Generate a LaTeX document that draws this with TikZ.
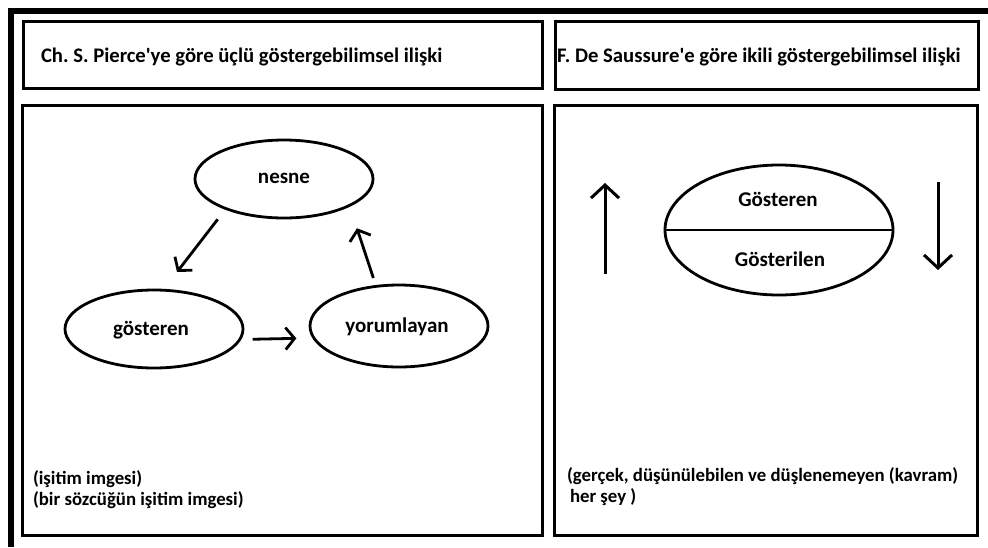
\documentclass[tikz,border=0pt]{standalone}
\usepackage{fontspec}
\setmainfont{Carlito}[Ligatures=TeXOff]
\usetikzlibrary{shapes.geometric,arrows.meta}
\frenchspacing
\begin{document}
\begin{tikzpicture}[x=1pt,y=-1pt,
  box/.style={draw,line width=3pt,inner sep=0pt,outer sep=0pt},
  oval/.style={draw,ellipse,line width=2.8pt,inner sep=0pt,outer sep=0pt},
  lbl/.style={font=\fontsize{21}{23}\selectfont\bfseries,inner sep=0pt,outer sep=0pt},
  ttl/.style={font=\fontsize{20.7}{23}\selectfont\bfseries\frenchspacing,inner sep=0pt,outer sep=0pt},
  note/.style={font=\fontsize{18.8}{21}\selectfont\bfseries,inner sep=0pt,outer sep=0pt},
  arr/.style={line width=2.8pt,-{Straight Barb[length=9pt,width=22pt]}},
  bigarr/.style={line width=3pt,-{Straight Barb[length=13pt,width=28pt]}}]
\useasboundingbox (0,0) rectangle (988,547);
\fill[white] (0,0) rectangle (988,547);
% outer frame
\coordinate (fbl) at (11,547);
\coordinate (ftl) at (11,11);
\coordinate (ftr) at (988,11);
\draw[line width=6pt] (fbl) -- (ftl) -- (ftr);
% boxes
\node[box,minimum width=518.5pt,minimum height=67.2pt] (h1) at (282.75,55.1) {};
\node[box,minimum width=423.7pt,minimum height=67.3pt] (h2) at (766.85,55.35) {};
\node[box,minimum width=520.2pt,minimum height=430.5pt] (b1) at (282.4,320.25) {};
\node[box,minimum width=422.7pt,minimum height=430pt] (b2) at (765.65,320) {};
% titles
\node[ttl,anchor=base west] (t1) at (41,62) {Ch. S. Pierce'ye göre üçlü göstergebilimsel ilişki};
\node[ttl,anchor=base west] (t2) at (557,62) {F. De Saussure'e göre ikili göstergebilimsel ilişki};
% Pierce triangle
\node[oval,minimum width=178pt,minimum height=78pt] (nesne) at (284,179) {};
\node[lbl] (nesneT) at (284,178) {nesne};
\node[oval,minimum width=178pt,minimum height=78pt] (gost) at (154,329) {};
\node[lbl] (gostT) at (151,330) {gösteren};
\node[oval,minimum width=178pt,minimum height=82pt] (yor) at (399,326) {};
\node[lbl] (yorT) at (397,327) {yorumlayan};
\draw[arr,shorten <=13.5pt,shorten >=23pt] (nesne.207) -- (gost.77);
\draw[arr,shorten <=13pt,shorten >=17.5pt] (gost.353.4) -- (yor.188.8);
\draw[arr,shorten <=8.8pt,shorten >=24pt] (yor.120.5) -- (nesne.338.3);
% Saussure sign
\node[oval,minimum width=228pt,minimum height=130pt] (sig) at (779,230) {};
\draw[line width=2.8pt] (sig.west) -- (sig.east);
\node[lbl] (sigT1) at (778,199) {Gösteren};
\node[lbl] (sigT2) at (780,259) {Gösterilen};
\coordinate (ua1) at (605,274);
\coordinate (ua2) at (605,183);
\coordinate (da1) at (938,182);
\coordinate (da2) at (938,270);
\draw[bigarr] (ua1) -- (ua2);
\draw[bigarr] (da1) -- (da2);
% bottom notes
\node[note,anchor=base west] (n1) at (33,484) {(işitim imgesi)};
\node[note,anchor=base west] (n2) at (33,505) {(bir sözcüğün işitim imgesi)};
\node[note,anchor=base west] (n3) at (567,481) {(gerçek, düşünülebilen ve düşlenemeyen (kavram)};
\node[note,anchor=base west] (n4) at (570,502) {her şey )};
\end{tikzpicture}
\end{document}
